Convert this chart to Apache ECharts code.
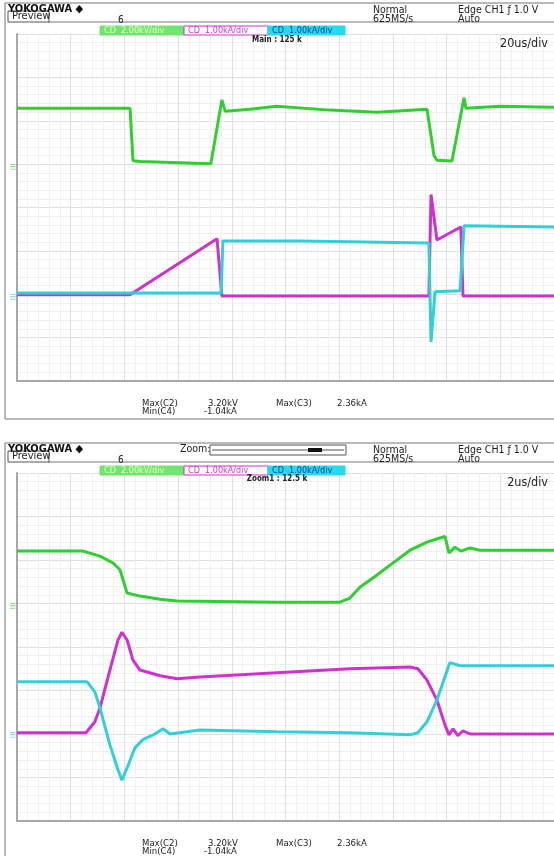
<!DOCTYPE html>
<html><head><meta charset="utf-8">
<script src="https://cdn.jsdelivr.net/npm/echarts@6/dist/echarts.min.js"></script>
<style>html,body{margin:0;padding:0;background:#fff}#c{width:554px;height:856px}</style>
</head><body><div id="c"></div>
<script>
// ---- Top panel (Main, 20us/div) : time in us, C2 in kV, C3/C4 in kA
const topGreenT = [0,42.1,43.2,46,72.2,76.3,77.5,86.8,96.8,116.6,134.1,152.7,153.4,155.3,156.4,162.0,166.5,167.2,179.9,200];
const topGreenV = [2.72,2.72,0.30,0.26,0.16,3.10,2.58,2.67,2.81,2.63,2.53,2.67,2.63,0.55,0.32,0.28,3.20,2.72,2.81,2.76];
const topMagT = [0,42.1,74.5,75.2,76.3,153.4,154.2,156.4,165.3,166.1,200];
const topMagV = [0.05,0.05,1.34,1.31,0.02,0.02,2.36,1.31,1.61,0.02,0.02];
const topCyanT = [0,76.0,76.7,105.4,153.4,154.2,155.7,165.0,166.5,200];
const topCyanV = [0.09,0.09,1.29,1.29,1.24,-1.04,0.12,0.14,1.64,1.61];
// ---- Bottom panel (Zoom1, 2us/div)
const botGreenT = [0,2.46,3.09,3.58,3.84,4.10,4.58,5.33,5.96,9.68,12.03,12.40,12.77,13.41,14.04,14.64,15.27,15.75,15.94,16.09,16.31,16.53,16.87,17.24,20];
const botGreenV = [2.53,2.53,2.30,1.98,1.66,0.60,0.46,0.32,0.23,0.18,0.18,0.37,0.87,1.43,2.02,2.57,2.94,3.13,3.20,2.44,2.71,2.53,2.67,2.57,2.57];
const botMagT = [0,2.57,2.90,3.09,3.46,3.76,3.91,4.10,4.32,4.58,5.33,5.96,6.81,9.68,12.40,14.64,14.93,15.27,15.64,15.94,16.09,16.24,16.42,16.61,16.87,20];
const botMagV = [0.05,0.05,0.30,0.62,1.49,2.18,2.36,2.18,1.72,1.49,1.36,1.29,1.33,1.43,1.52,1.56,1.52,1.26,0.80,0.23,0.00,0.14,-0.02,0.09,0.02,0.02];
const botCyanT = [0,2.61,2.90,3.09,3.46,3.76,3.91,4.10,4.39,4.69,5.14,5.44,5.70,6.81,9.68,12.40,14.64,14.93,15.27,15.64,16.12,16.50,20];
const botCyanV = [1.22,1.22,0.99,0.62,-0.23,-0.80,-1.04,-0.76,-0.30,-0.11,0.02,0.14,0.02,0.11,0.07,0.05,0.00,0.05,0.30,0.80,1.66,1.59,1.59];

const chLabels = ['2.00kV/div','1.00kA/div','1.00kA/div'];
const measNames = ['Max(C2)','Min(C4)','Max(C3)'];
const measVals = ['3.20kV','-1.04kA','2.36kA'];

const zip = (t,v)=>t.map((x,i)=>[x,v[i]]);
const GREEN='#2fcf2f', MAG='#d030d0', CYAN='#30d0d8';
const FONT="'Liberation Sans Narrow','DejaVu Sans Condensed',sans-serif";

function range(zeroDiv, perDiv){ return {min:-(8-zeroDiv)*perDiv, max:zeroDiv*perDiv}; }
const gridLine = {show:true,lineStyle:{color:'#e0e0e0',width:1}};
const minorLine = {show:true,lineStyle:{color:'#f0f0f0',width:1}};
function xAx(gi,max,interval){return {type:'value',gridIndex:gi,min:0,max:max,interval:interval,
  axisLabel:{show:false},axisTick:{show:false},axisLine:{show:true,onZero:false,lineStyle:{color:'#a8a8a8',width:2}},
  splitLine:gridLine,minorTick:{show:false,splitNumber:5},minorSplitLine:minorLine};}
function yGrid(gi){return {type:'value',gridIndex:gi,min:-4,max:4,interval:1,
  axisLabel:{show:false},axisTick:{show:false},axisLine:{show:true,onZero:false,lineStyle:{color:'#a8a8a8',width:2}},
  splitLine:gridLine,minorTick:{show:false,splitNumber:5},minorSplitLine:minorLine};}
function yHidden(gi,r){return {type:'value',gridIndex:gi,min:r.min,max:r.max,show:false,splitLine:{show:false}};}
function ser(xi,yi,data,color){return {type:'line',xAxisIndex:xi,yAxisIndex:yi,data:data,showSymbol:false,symbol:'none',
  lineStyle:{color:color,width:3},silent:true,animation:false,z:3};}

const graphics=[];
function txt(x,y,s,opt){graphics.push({type:'text',x:x,y:y,silent:true,z:10,
  style:Object.assign({text:s,font:'11px '+FONT,fill:'#222',textAlign:'left',textVerticalAlign:'top'},opt||{})});}
function rect(x,y,w,h,st){graphics.push({type:'rect',shape:{x:x,y:y,width:w,height:h},silent:true,z:9,style:st});}
function line(x1,y1,x2,y2,st){graphics.push({type:'line',shape:{x1:x1,y1:y1,x2:x2,y2:y2},silent:true,z:9,style:st});}

function panel(y0,y1,plotTop,plotBot,zoom,mainLabel,divLabel,zeroG,zeroC){
  rect(5,y0,560,y1-y0,{fill:'none',stroke:'#777',lineWidth:1});
  line(48,y0+19,560,y0+19,{stroke:'#777',lineWidth:1});
  rect(8,y0+8,41,11,{fill:'#fff',stroke:'#555',lineWidth:1});
  txt(8,y0+1,'YOKOGAWA ◆',{font:'bold 11px '+FONT,fill:'#111'});
  txt(12,y0+8,'Preview',{font:'11px '+FONT,fill:'#222'});
  txt(118,y0+12,'6',{font:'10px '+FONT});
  txt(373,y0+2,'Normal',{font:'10.5px '+FONT});
  txt(373,y0+11,'625MS/s',{font:'10.5px '+FONT});
  txt(458,y0+2,'Edge CH1 \u0192 1.0 V',{font:'10.5px '+FONT});
  txt(458,y0+11,'Auto',{font:'10.5px '+FONT});
  if(zoom){
    txt(180,y0+1,'Zoom:',{font:'10.5px '+FONT});
    rect(210,y0+2,136,10,{fill:'#fff',stroke:'#555',lineWidth:1});
    line(212,y0+7,344,y0+7,{stroke:'#555',lineWidth:1});
    rect(308,y0+5,14,4,{fill:'#111'});
  }
  const by=y0+23;
  rect(100,by,84,9,{fill:'#6fe66f',stroke:'#6fe66f',lineWidth:1});
  rect(184,by,84,9,{fill:'#fff',stroke:'#d030d0',lineWidth:1});
  rect(268,by,77,9,{fill:'#22dcee',stroke:'#22dcee',lineWidth:1});
  txt(104,by,'CD  '+chLabels[0],{font:'9px '+FONT,fill:'#e8ffc0'});
  txt(188,by,'CD  '+chLabels[1],{font:'9px '+FONT,fill:'#d030d0'});
  txt(272,by,'CD  '+chLabels[2],{font:'9px '+FONT,fill:'#1b3c9c'});
  txt(277,plotTop+2,mainLabel,{font:'bold 8px '+FONT,fill:'#222',textAlign:'center'});
  txt(548,plotTop+3,divLabel,{font:'12.5px '+FONT,fill:'#222',textAlign:'right'});
  txt(9,zeroG-5,'\u2261',{font:'bold 10px '+FONT,fill:'#8fe08f'});
  txt(9,zeroC-5,'\u2261',{font:'bold 10px '+FONT,fill:'#8fdfe8'});
  const my=plotBot+18;
  txt(142,my,measNames[0],{font:'9.5px '+FONT});
  txt(142,my+8,measNames[1],{font:'9.5px '+FONT});
  txt(208,my,measVals[0],{font:'9.5px '+FONT});
  txt(204,my+8,measVals[1],{font:'9.5px '+FONT});
  txt(276,my,measNames[2],{font:'9.5px '+FONT});
  txt(337,my,measVals[2],{font:'9.5px '+FONT});
}
panel(3,419,34,381,false,'Main : 125 k','20us/div',167,297);
panel(443,900,473,821,true,'Zoom1 : 12.5 k','2us/div',606,735);

const chart=echarts.init(document.getElementById('c'),null,{renderer:'canvas'});
chart.setOption({
  animation:false,
  backgroundColor:'#fff',
  grid:[{left:17,top:34,right:0,height:347},{left:17,top:473,right:0,height:348}],
  xAxis:[xAx(0,200,20),xAx(1,20,2)],
  yAxis:[yGrid(0),yHidden(0,range(3.07,2)),yHidden(0,range(6.06,1)),
         yGrid(1),yHidden(1,range(3.06,2)),yHidden(1,range(6.02,1))],
  series:[
    ser(0,1,zip(topGreenT,topGreenV),GREEN),
    ser(0,2,zip(topMagT,topMagV),MAG),
    ser(0,2,zip(topCyanT,topCyanV),CYAN),
    ser(1,4,zip(botGreenT,botGreenV),GREEN),
    ser(1,5,zip(botMagT,botMagV),MAG),
    ser(1,5,zip(botCyanT,botCyanV),CYAN)
  ],
  graphic:graphics
});
</script></body></html>
